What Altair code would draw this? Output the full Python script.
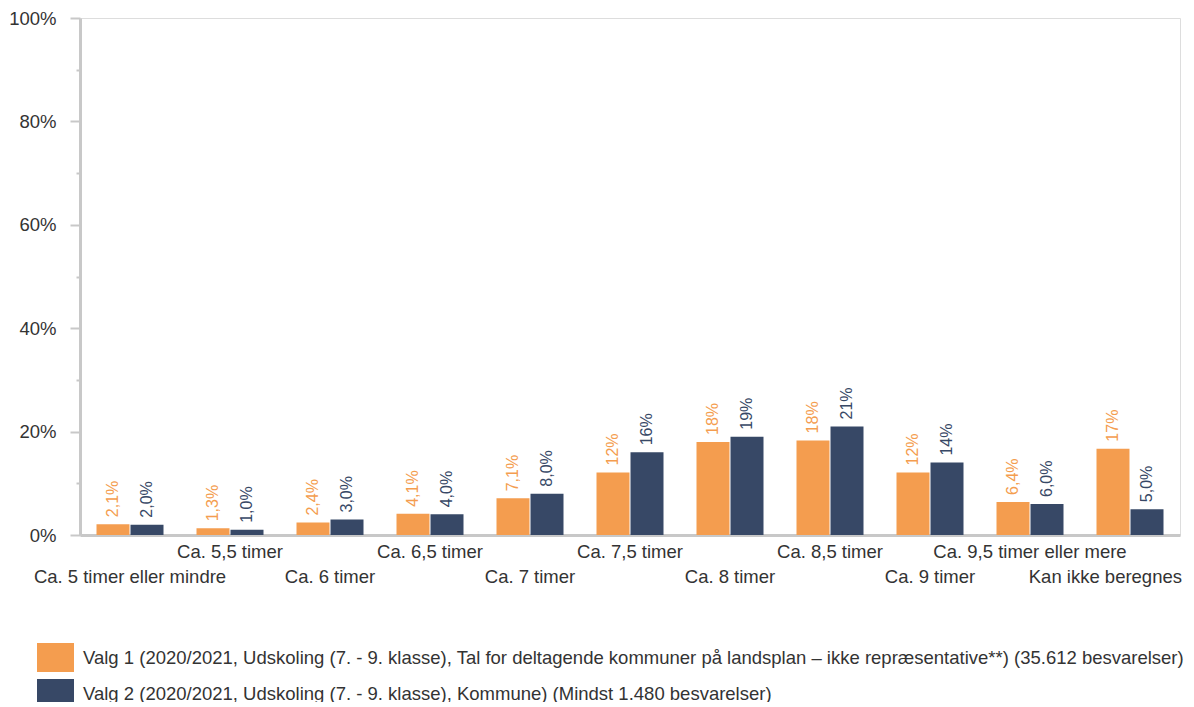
import altair as alt
import pandas as pd

categories = [
    "Ca. 5 timer eller mindre", "Ca. 5,5 timer", "Ca. 6 timer", "Ca. 6,5 timer",
    "Ca. 7 timer", "Ca. 7,5 timer", "Ca. 8 timer", "Ca. 8,5 timer",
    "Ca. 9 timer", "Ca. 9,5 timer eller mere", "Kan ikke beregnes",
]
series_names = [
    "Valg 1 (2020/2021, Udskoling (7. - 9. klasse), Tal for deltagende kommuner på landsplan – ikke repræsentative**) (35.612 besvarelser)",
    "Valg 2 (2020/2021, Udskoling (7. - 9. klasse), Kommune) (Mindst 1.480 besvarelser)",
]
valg1 = [2.1, 1.3, 2.4, 4.1, 7.1, 12.1, 18.0, 18.3, 12.1, 6.4, 16.7]
valg2 = [2.0, 1.0, 3.0, 4.0, 8.0, 16.0, 19.0, 21.0, 14.0, 6.0, 5.0]
colors = ["#F49D4F", "#374866"]


def fmt(v):
    if v >= 10:
        return f"{round(v)}%"
    return f"{v:.1f}%".replace(".", ",")


rows = []
for s, vals in zip(series_names, [valg1, valg2]):
    for c, v in zip(categories, vals):
        rows.append({"cat": c, "series": s, "value": v / 100, "label": fmt(v)})
df = pd.DataFrame(rows)

FONT = "Liberation Sans"
GRAY = "#c8c8c8"
TXT = "#333333"
cat_list = "[" + ",".join("'" + c + "'" for c in categories) + "]"
last_test = f"datum.value == '{categories[-1]}'"

x_enc = alt.X(
    "cat:N",
    sort=categories,
    scale=alt.Scale(paddingInner=0.33, paddingOuter=0.165),
    axis=alt.Axis(
        title=None, labelAngle=0, ticks=False, tickSize=0,
        labelExpr=f"indexof({cat_list}, datum.value) % 2 == 0 ? ['', datum.label] : datum.label",
        labelAlign={"condition": {"test": last_test, "value": "right"}, "value": "center"},
        labelOffset={"condition": {"test": last_test, "value": 52}, "value": 0},
        domainColor=GRAY, domainWidth=3, labelFont=FONT, labelFontSize=18.5,
        labelColor=TXT, labelPadding=7, labelLineHeight=25, labelLimit=400,
    ),
)
xoff = alt.XOffset("series:N", sort=series_names, scale=alt.Scale(paddingInner=0.03))

y_enc = alt.Y(
    "value:Q",
    scale=alt.Scale(domain=[0, 1], nice=False),
    axis=alt.Axis(
        title=None, values=[i / 10 for i in range(11)], format=".0%",
        labelExpr="round(datum.value*100) % 20 == 0 ? datum.label : ''",
        grid=False, domainColor=GRAY, domainWidth=3, tickColor=GRAY, tickWidth=2,
        tickSize={"condition": {"test": "round(datum.value*100) % 20 == 0", "value": 10}, "value": 4},
        labelFont=FONT, labelFontSize=18.5, labelColor=TXT, labelPadding=14,
    ),
)

color_scale = alt.Scale(domain=series_names, range=colors)

bars = alt.Chart(df).mark_bar().encode(
    x=x_enc, xOffset=xoff, y=y_enc,
    color=alt.Color(
        "series:N", scale=color_scale,
        legend=alt.Legend(
            title=None, orient="none", legendX=-43, legendY=621, direction="vertical",
            symbolType="M-1,-0.78H1V0.78H-1Z", symbolSize=1369, symbolStrokeWidth=0,
            symbolOpacity=1, labelFont=FONT, labelFontSize=18.5, labelColor=TXT,
            labelLimit=3000, labelOffset=9, padding=0, rowPadding=3,
        ),
    ),
)

text = alt.Chart(df).mark_text(
    angle=270, align="left", baseline="middle", dx=7, font=FONT, fontSize=16
).encode(
    x=x_enc, xOffset=xoff, y=y_enc, text="label:N",
    color=alt.Color("series:N", scale=color_scale, legend=None),
)

chart = alt.layer(bars, text).properties(
    width=1100, height=517,
    padding={"left": 72, "top": 10, "right": 6, "bottom": 167},
    autosize=alt.AutoSizeParams(type="none"),
).configure_view(stroke=None).configure(font=FONT)

chart.save("out.html", embed_options={"renderer": "svg", "actions": False})
